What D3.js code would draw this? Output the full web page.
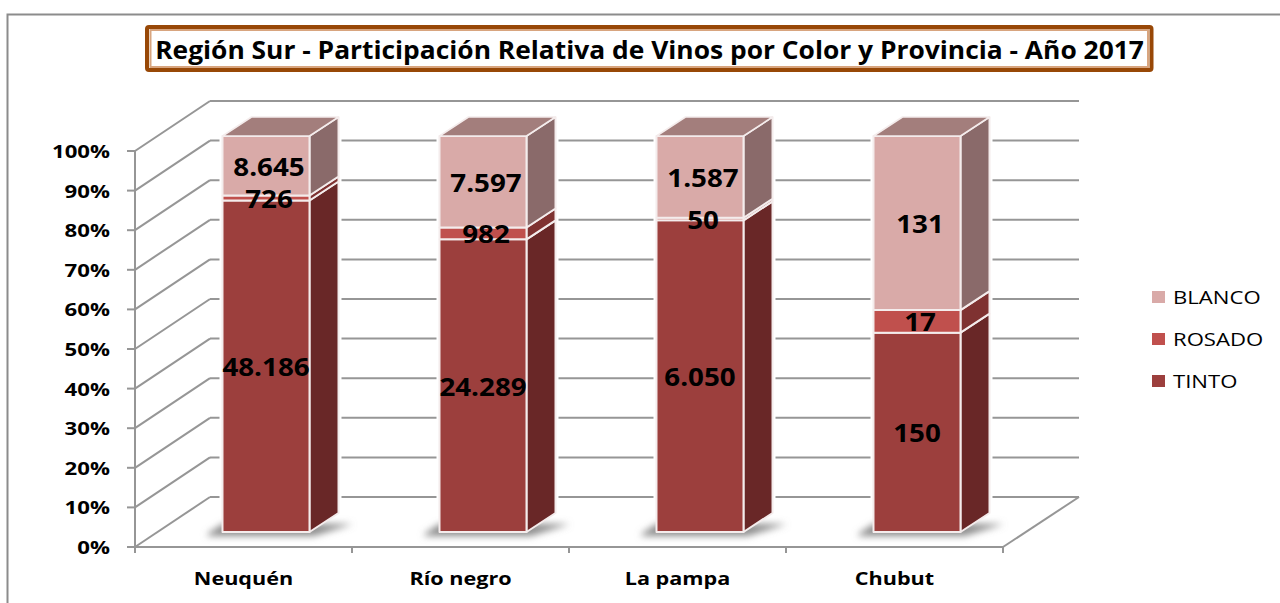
<!DOCTYPE html>
<html><head><meta charset="utf-8">
<script src="https://cdn.jsdelivr.net/npm/d3@7"></script>
<style>html,body{margin:0;padding:0;background:#fff}svg{display:block}</style>
</head><body><svg id="c" width="1280" height="603"></svg>
<script>
const titleText = "Región Sur - Participación Relativa de Vinos por Color y Provincia - Año 2017";
const provinces = ["Neuquén","Río negro","La pampa","Chubut"];
const seriesNames = ["TINTO","ROSADO","BLANCO"];
const tinto = [48186,24289,6050,150];
const rosado = [726,982,50,17];
const blanco = [8645,7597,1587,131];
const labelsTinto = ["48.186","24.289","6.050","150"];
const labelsRosado = ["726","982","50","17"];
const labelsBlanco = ["8.645","7.597","1.587","131"];
const yTicks = [0,.1,.2,.3,.4,.5,.6,.7,.8,.9,1];
const frontColors = ["#9c3f3d","#c0504d","#d9aaa8"];
const sideColors = ["#692727","#7f3231","#8a6a6a"];
const topColors = ["#7f3231","#8f3c3a","#a37e7c"];

const font = "'Open Sans','Noto Sans',sans-serif";
const grid = "#969696";
const svg = d3.select("#c");
const defs = svg.append("defs");
defs.append("filter").attr("id","blur").attr("x","-30%").attr("y","-100%").attr("width","160%").attr("height","300%")
  .append("feGaussianBlur").attr("stdDeviation",3.5);

// text stretched horizontally, as the reference's picture is
const stretched = (sel,sx,px,py) => sel.attr("transform",(d,i)=>`translate(${px(d,i)},${py(d,i)}) scale(${sx},1)`);

svg.append("path").attr("d","M7.5 603V14.5H1280").attr("fill","none").attr("stroke","#8c8c8c").attr("stroke-width",2);

const y = d3.scaleLinear().domain([0,1]).range([547,151]);
const x = d3.scaleBand().domain(provinces).range([135,1003]);
const depthX = 75, depthY = -50;

// walls and floor
const g = svg.append("g").attr("fill","none").attr("stroke",grid).attr("stroke-width",2);
g.selectAll("line.back").data(yTicks).join("line")
  .attr("x1",135+depthX).attr("x2",1003+depthX+1)
  .attr("y1",d=>y(d)+depthY).attr("y2",d=>y(d)+depthY);
g.selectAll("line.diag").data(yTicks).join("line")
  .attr("x1",135).attr("x2",135+depthX)
  .attr("y1",d=>y(d)).attr("y2",d=>y(d)+depthY);
g.selectAll("line.tick").data(yTicks).join("line")
  .attr("x1",127).attr("x2",135).attr("y1",d=>y(d)).attr("y2",d=>y(d));
g.append("line").attr("x1",135).attr("x2",135).attr("y1",151).attr("y2",553);
g.append("line").attr("x1",127).attr("x2",1003).attr("y1",547).attr("y2",547);
g.append("line").attr("x1",1003).attr("x2",1003+depthX+1).attr("y1",547).attr("y2",547+depthY);
g.selectAll("line.xt").data(d3.range(1,5)).join("line")
  .attr("x1",d=>135+d*x.step()).attr("x2",d=>135+d*x.step()).attr("y1",547).attr("y2",553);

// stacked data
const rows = provinces.map((p,i)=>({p,TINTO:tinto[i],ROSADO:rosado[i],BLANCO:blanco[i]}));
const stacked = d3.stack().keys(seriesNames).offset(d3.stackOffsetExpand)(rows);
const labels = [labelsTinto,labelsRosado,labelsBlanco];

// bars
const barOffX = 87.5, barOffY = -15, barW = 87, sideX = 29, sideY = -19;
const bx = p => x(p)+barOffX, by = v => y(v)+barOffY;

// white halo behind the bars, interrupting the gridlines
const halo = svg.append("g").attr("fill","#fff").attr("stroke","#fff").attr("stroke-width",6);
provinces.forEach(p=>{
  const l=bx(p), r=l+barW;
  halo.append("path").attr("d",`M${l} ${by(1)}L${l+sideX} ${by(1)+sideY}H${r+sideX}V${by(0)+sideY}L${r} ${by(0)}H${l}Z`);
});

const shadows = svg.append("g").attr("filter","url(#blur)");
provinces.forEach(p=>{
  const l = bx(p), r = l+barW, b = by(0);
  shadows.append("path").attr("fill","#8c8c8c")
    .attr("d",`M${l-15} ${b+2}L${l} ${b-8}H${r+sideX+14}L${r+4} ${b+4}H${l-15}Z`);
});

const bars = svg.append("g").attr("stroke","#f4ecec").attr("stroke-width",2).attr("stroke-linejoin","round");
stacked.forEach((s,si)=>{
  const lay = bars.append("g");
  s.forEach(d=>{
    const p=d.data.p, l=bx(p), r=l+barW, t=by(d[1]), b=by(d[0]);
    lay.append("path").attr("fill",sideColors[si])
      .attr("d",`M${r} ${t}L${r+sideX} ${t+sideY}V${b+sideY}L${r} ${b}Z`);
    lay.append("rect").attr("x",l).attr("y",t).attr("width",barW).attr("height",b-t).attr("fill",frontColors[si]);
  });
});
provinces.forEach(p=>{
  const l=bx(p), r=l+barW, t=by(1);
  bars.append("path").attr("fill",topColors[2]).attr("stroke-width",1.5)
    .attr("d",`M${l} ${t}L${l+sideX} ${t+sideY}H${r+sideX}L${r} ${t}Z`);
});

// value labels
const lab = svg.append("g").attr("font-family",font).attr("font-weight",700).attr("font-size",25).attr("text-anchor","middle").attr("fill","#000");
stacked.forEach((s,si)=>{
  const t = lab.append("g").selectAll("text").data(s).join("text").text((d,i)=>labels[si][i]);
  stretched(t,1.11,d=>bx(d.data.p)+barW/2+(si?3:0),d=>by((d[0]+d[1])/2)+10);
});

// axis labels
stretched(svg.append("g").attr("font-family",font).attr("font-weight",700).attr("font-size",18.5).attr("text-anchor","end").attr("fill","#000")
  .selectAll("text").data(yTicks).join("text").text(d3.format(".0%")),1.2,()=>110,d=>y(d)+7);
stretched(svg.append("g").attr("font-family",font).attr("font-weight",700).attr("font-size",18).attr("text-anchor","middle").attr("fill","#000")
  .selectAll("text").data(provinces).join("text").text(d=>d),1.2,p=>x(p)+x.bandwidth()/2,()=>585);

// title
svg.append("rect").attr("x",147).attr("y",27).attr("width",1004.5).attr("height",43).attr("rx",2).attr("fill","#fff").attr("stroke","#984807").attr("stroke-width",4);
svg.append("rect").attr("x",150.5).attr("y",30).attr("width",997.5).attr("height",37).attr("fill","none").attr("stroke","#d8a57f").attr("stroke-width",2);
stretched(svg.append("text").datum(titleText).attr("text-anchor","middle").attr("font-family",font).attr("font-weight",700).attr("font-size",25).attr("fill","#000").text(d=>d),1.055,()=>649.5,()=>59);

// legend
const legY = d3.scalePoint().domain(["BLANCO","ROSADO","TINTO"]).range([297,381]);
const leg = svg.append("g");
leg.selectAll("rect").data(legY.domain()).join("rect")
  .attr("x",1152).attr("y",d=>legY(d)-6).attr("width",13).attr("height",12)
  .attr("fill",d=>frontColors[seriesNames.indexOf(d)]);
stretched(leg.selectAll("text").data(legY.domain()).join("text")
  .attr("font-family",font).attr("font-size",19).attr("fill","#000").text(d=>d),1.165,()=>1173,d=>legY(d)+7);
</script></body></html>
